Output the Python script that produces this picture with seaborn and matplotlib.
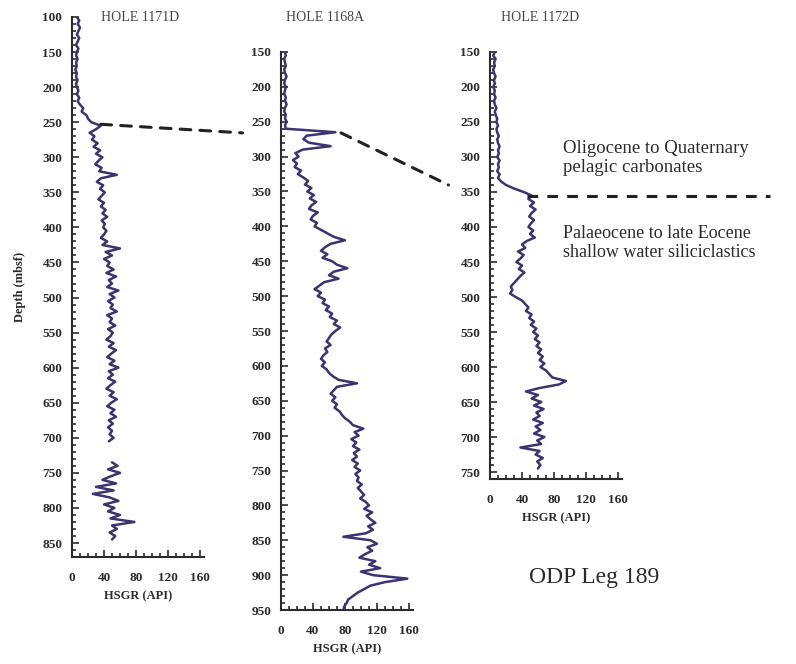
import numpy as np
import matplotlib
matplotlib.use("Agg")
import matplotlib.pyplot as plt
from matplotlib.patches import ConnectionPatch
from matplotlib.ticker import MultipleLocator
import seaborn as sns

# HSGR logs, ODP Leg 189 (5 m sampling)
nan = np.nan

hole_1171d = [6, 9, 7, 10, 8, 6, 9, 7, 5, 8, 6, 5, 7, 5, 6, 4, 6, 5, 7, 5, 6,
              8, 6, 9, 7, 10, 14, 12, 18, 20, 24, 36, 30, 22, 28, 25, 32, 27, 35, 30,
              38, 33, 29, 37, 34, 56, 36, 31, 39, 35, 41, 37, 33, 40, 36, 42, 38, 44,
              37, 41, 39, 43, 40, 36, 44, 38, 60, 42, 50, 40, 47, 44, 52, 43, 55, 46,
              50, 44, 58, 47, 53, 45, 51, 48, 56, 44, 50, 47, 54, 45, 51, 48, 43, 52,
              46, 55, 49, 44, 53, 47, 58, 46, 51, 45, 54, 48, 43, 52, 47, 56, 49, 44,
              53, 48, 55, 46, 51, 45, 50, 47, 52, 46, nan, nan, nan, nan, nan, 50, 57,
              45, 60, 48, 38, 55, 30, 52, 26, 47, 58, 40, 53, 45, 60, 48, 78, 50, 56,
              47, 54, 50]

hole_1168a = [5, 6, 4, 5, 6, 4, 5, 7, 5, 4, 6, 5, 4, 6, 5, 7, 5, 4, 6, 5, 7, 5, 6,
              68, 32, 28, 35, 62, 27, 18, 22, 15, 20, 17, 25, 21, 28, 34, 30, 38, 33,
              41, 36, 44, 38, 35, 46, 40, 37, 45, 42, 50, 58, 66, 80, 62, 55, 50, 58,
              52, 64, 70, 83, 66, 60, 72, 54, 48, 42, 50, 46, 55, 52, 60, 56, 64, 61,
              70, 66, 74, 68, 63, 60, 57, 62, 55, 58, 53, 50, 55, 51, 57, 60, 65, 72,
              95, 70, 66, 62, 68, 64, 70, 67, 73, 76, 80, 86, 90, 103, 92, 97, 88, 94,
              90, 98, 91, 95, 89, 96, 92, 99, 93, 97, 95, 101, 96, 100, 104, 99, 106,
              110, 104, 114, 107, 112, 118, 109, 115, 106, 78, 112, 120, 108, 114, 105,
              98, 118, 110, 124, 100, 115, 158, 130, 112, 104, 96, 90, 84, 82, 79, 78]

hole_1172d = [6, 4, 7, 5, 6, 4, 5, 7, 5, 6, 4, 6, 5, 7, 5, 6, 8, 6, 7, 9, 8, 10, 8,
              9, 11, 9, 10, 12, 10, 11, 9, 12, 10, 11, 9, 12, 10, 14, 20, 30, 42, 52,
              48, 55, 50, 57, 52, 49, 55, 51, 48, 54, 50, 56, 46, 40, 44, 35, 42, 38,
              33, 40, 36, 43, 38, 34, 30, 26, 28, 25, 32, 40, 44, 48, 45, 52, 49, 55,
              51, 58, 54, 60, 56, 62, 58, 64, 60, 66, 62, 68, 63, 70, 74, 78, 95, 86,
              62, 45, 60, 52, 64, 55, 67, 58, 62, 54, 66, 57, 63, 55, 68, 59, 64, 38,
              62, 57, 66, 59, 63, 60]

holes = ["HOLE 1171D", "HOLE 1168A", "HOLE 1172D"]
tops = [100, 150, 150]
logs = [hole_1171d, hole_1168a, hole_1172d]
ylims = [(870, 100), (950, 150), (760, 150)]
ytick_start = [100, 150, 150]

sns.set_style("ticks")
plt.rcParams['font.family'] = ['Liberation Serif', 'DejaVu Serif']

fig = plt.figure(figsize=(7.96, 6.64), dpi=100)
ax1 = fig.add_axes([0.0905, 0.1611, 0.1658, 0.8133])
ax2 = fig.add_axes([0.353, 0.0813, 0.1658, 0.8404])
ax3 = fig.add_axes([0.6156, 0.2786, 0.1658, 0.6431])
axes = [ax1, ax2, ax3]

ink = "#2b2b2b"
for ax, vals, top, ylim, ys in zip(axes, logs, tops, ylims, ytick_start):
    vals = np.array(vals, dtype=float)
    depth = np.arange(top, top + 5 * len(vals), 5)
    # draw each continuous stretch of log separately so data gaps stay open
    gap = np.isnan(vals)
    seg_id = np.cumsum(gap)
    for s in np.unique(seg_id[~gap]):
        m = (seg_id == s) & ~gap
        sns.lineplot(x=vals[m], y=depth[m], ax=ax, sort=False, estimator=None,
                     color="#3a3470", linewidth=1.8)
    ax.set_xlim(0, 165)
    ax.set_ylim(*ylim)
    ax.set_xticks([0, 40, 80, 120, 160])
    ax.xaxis.set_minor_locator(MultipleLocator(10))
    ax.set_yticks(np.arange(ys, ylim[0] + 1, 50))
    ax.yaxis.set_minor_locator(MultipleLocator(10))
    ax.tick_params(which="both", direction="in", color=ink, width=1.2,
                   labelsize=9.5, labelcolor=ink)
    ax.tick_params(which="major", length=5)
    ax.tick_params(which="minor", length=3)
    ax.tick_params(axis="x", pad=11)
    ax.tick_params(axis="y", pad=7)
    for lab in ax.get_xticklabels() + ax.get_yticklabels():
        lab.set_fontweight("bold")
    for side in ["left", "bottom"]:
        ax.spines[side].set_linewidth(1.5)
        ax.spines[side].set_color(ink)
    sns.despine(ax=ax)
    ax.set_xlabel("HSGR (API)", fontsize=9, color=ink, labelpad=4,
                  fontweight="bold")

ax1.set_ylabel("Depth (mbsf)", fontsize=9, color=ink, labelpad=12,
               fontweight="bold")

for name, xc in zip(holes, [0.176, 0.408, 0.678]):
    fig.text(xc, 0.974, name, ha="center", va="center", fontsize=10,
             color="#444444")

# correlation of the carbonate / siliciclastic boundary
dash = dict(color="#222222", linewidth=2.2, linestyle=(0, (3.5, 3)))
con1 = ConnectionPatch(xyA=(36, 253), coordsA=ax1.transData,
                       xyB=(-48, 266), coordsB=ax2.transData, **dash)
con2 = ConnectionPatch(xyA=(75, 266), coordsA=ax2.transData,
                       xyB=(-52, 340), coordsB=ax3.transData, **dash)
fig.add_artist(con1)
fig.add_artist(con2)
ax3.plot([46, 350], [356, 356], clip_on=False, **dash)

fig.text(0.707, 0.777, "Oligocene to Quaternary", fontsize=13.5, color=ink,
         va="center")
fig.text(0.707, 0.747, "pelagic carbonates", fontsize=13.5, color=ink,
         va="center")
fig.text(0.707, 0.649, "Palaeocene to late Eocene", fontsize=13, color=ink,
         va="center")
fig.text(0.707, 0.619, "shallow water siliciclastics", fontsize=13, color=ink,
         va="center")
fig.text(0.746, 0.130, "ODP Leg 189", fontsize=17, color=ink, ha="center",
         va="center")

fig.savefig("out.png", dpi=100)
plt.close(fig)
